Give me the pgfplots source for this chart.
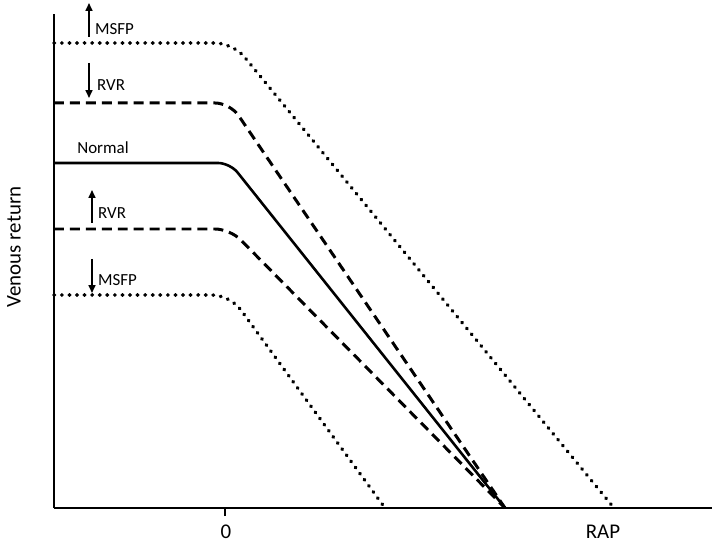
\documentclass[border=0pt]{standalone}
\usepackage{pgfplots}
\pgfplotsset{compat=1.18}
\usetikzlibrary{arrows.meta}
\usepackage{fontspec}
\setmainfont{Carlito}
\begin{document}
\begin{tikzpicture}
\begin{axis}[
  scale only axis,
  width=658bp, height=494bp,
  xmin=-171, xmax=487, ymin=0, ymax=494,
  axis lines=left,
  axis line style={line width=2.6pt,-},
  xtick={0}, xticklabels={},
  ytick=\empty,
  tick align=outside,
  major tick length=8bp,
  tick style={line width=1.2pt,black},
  clip=false,
]
\coordinate (O) at (axis cs:-171,0);
% top dotted (up MSFP)
\addplot[black, line width=3.6pt, line cap=round, dash pattern=on 0.6pt off 7pt, rounded corners=18pt]
  coordinates {(-171,465) (8,465) (389,0)};
% down RVR dashed
\addplot[black, line width=3pt, dash pattern=on 10pt off 6pt, rounded corners=15pt]
  coordinates {(-171,405) (5,405) (280,0)};
% Normal
\addplot[black, line width=2.6pt, rounded corners=12pt]
  coordinates {(-171,345) (5,345) (280,0)};
% up RVR dashed
\addplot[black, line width=3pt, dash pattern=on 10pt off 6pt, rounded corners=15pt]
  coordinates {(-171,279) (5,279) (280,0)};
% down MSFP dotted
\addplot[black, line width=3.6pt, line cap=round, dash pattern=on 0.6pt off 7pt, rounded corners=18pt]
  coordinates {(-171,213) (5,213) (160,0)};

\tikzset{arr/.style={line width=1.6pt, -{Triangle[width=7pt,length=8pt]}}}
\draw[arr] (axis cs:-136,471) -- (axis cs:-136,505);
\draw[arr] (axis cs:-136,445) -- (axis cs:-136,410);
\draw[arr] (axis cs:-133,285) -- (axis cs:-133,318);
\draw[arr] (axis cs:-133,249) -- (axis cs:-133,215);

\tikzset{lab/.style={font=\fontsize{17}{18}\selectfont, anchor=west, inner sep=0pt}}
\node[lab] at (axis cs:-130,479) {MSFP};
\node[lab] at (axis cs:-128,423) {RVR};
\node[font=\fontsize{17}{18}\selectfont, inner sep=0pt] at (axis cs:-122,360) {Normal};
\node[lab] at (axis cs:-127,295) {RVR};
\node[lab] at (axis cs:-127,228) {MSFP};

\node[font=\fontsize{21}{21}\selectfont, inner sep=0pt] at (axis cs:1,-24) {0};
\node[font=\fontsize{21}{21}\selectfont, inner sep=0pt] at (axis cs:378,-24) {RAP};
\node[font=\fontsize{21}{21}\selectfont, inner sep=0pt, rotate=90] at (axis cs:-211,261) {Venous return};
\end{axis}
\pgfresetboundingbox
\path[use as bounding box] (O) ++(-54bp,-35bp) rectangle ++(717bp,543bp);
\end{tikzpicture}
\end{document}
